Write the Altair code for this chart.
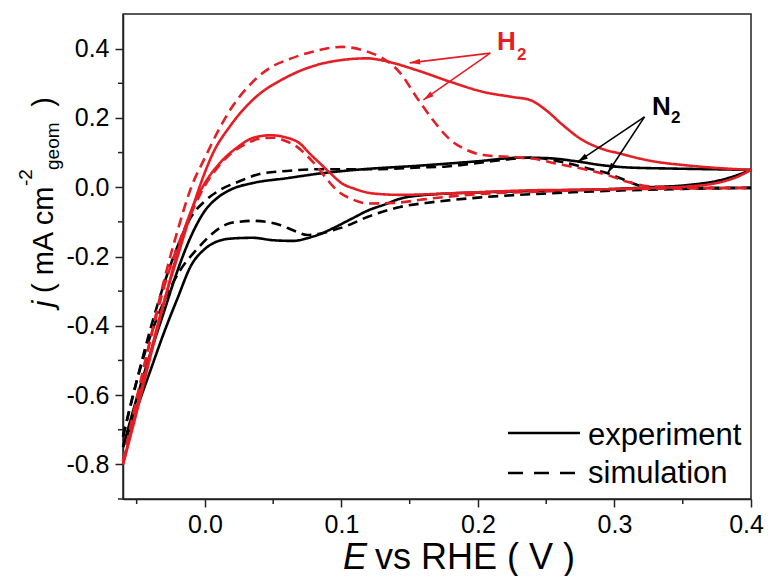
import math
import altair as alt
import pandas as pd

# ---------------- data ----------------
# N2, experiment (black solid)
n2e_up_x = [-0.06, -0.05, -0.04, -0.03, -0.02, -0.01, 0.0, 0.01, 0.02, 0.035, 0.06, 0.085, 0.11, 0.16, 0.2, 0.23, 0.25, 0.27, 0.29, 0.31, 0.34, 0.37, 0.4]
n2e_up_y = [-0.75, -0.61, -0.48, -0.36, -0.24, -0.14, -0.068, -0.028, -0.005, 0.012, 0.026, 0.04, 0.05, 0.063, 0.075, 0.085, 0.084, 0.076, 0.064, 0.057, 0.054, 0.052, 0.05]
n2e_dn_x = [0.4, 0.39, 0.377, 0.353, 0.328, 0.3, 0.25, 0.2, 0.17, 0.157, 0.143, 0.133, 0.119, 0.108, 0.094, 0.084, 0.075, 0.065, 0.05, 0.035, 0.02, 0.01, 0.0, -0.01, -0.02, -0.03, -0.04, -0.05, -0.06]
n2e_dn_y = [0.05, 0.035, 0.02, 0.006, 0.0, -0.005, -0.01, -0.015, -0.02, -0.024, -0.033, -0.048, -0.068, -0.09, -0.118, -0.136, -0.147, -0.155, -0.153, -0.146, -0.148, -0.155, -0.178, -0.225, -0.32, -0.42, -0.53, -0.64, -0.75]

# N2, simulation (black dashed)
n2s_up_x = [-0.06, -0.05, -0.04, -0.03, -0.02, -0.01, 0.0, 0.011, 0.024, 0.04, 0.06, 0.084, 0.128, 0.157, 0.177, 0.2, 0.226, 0.24, 0.255, 0.265, 0.28, 0.295, 0.308, 0.318, 0.33, 0.36, 0.4]
n2s_up_y = [-0.72, -0.56, -0.41, -0.28, -0.17, -0.085, -0.04, -0.008, 0.015, 0.038, 0.047, 0.052, 0.052, 0.057, 0.06, 0.07, 0.082, 0.086, 0.078, 0.07, 0.055, 0.04, 0.02, 0.005, 0.0, -0.002, -0.002]
n2s_dn_x = [0.4, 0.35, 0.3, 0.25, 0.2, 0.167, 0.143, 0.119, 0.105, 0.094, 0.083, 0.075, 0.065, 0.055, 0.045, 0.035, 0.025, 0.018, 0.006, -0.006, -0.018, -0.03, -0.04, -0.05, -0.06]
n2s_dn_y = [-0.002, -0.005, -0.01, -0.018, -0.03, -0.043, -0.057, -0.086, -0.11, -0.124, -0.135, -0.138, -0.125, -0.109, -0.1, -0.097, -0.1, -0.104, -0.132, -0.18, -0.239, -0.33, -0.43, -0.56, -0.72]

# H2, experiment (red solid)
h2e_up_x = [-0.06, -0.05, -0.04, -0.03, -0.02, -0.013, -0.004, 0.006, 0.018, 0.035, 0.06, 0.084, 0.1, 0.119, 0.13, 0.155, 0.18, 0.204, 0.226, 0.238, 0.25, 0.262, 0.275, 0.29, 0.304, 0.328, 0.353, 0.377, 0.4]
h2e_up_y = [-0.8, -0.64, -0.48, -0.33, -0.2, -0.11, 0.0, 0.099, 0.174, 0.252, 0.318, 0.355, 0.367, 0.372, 0.366, 0.338, 0.304, 0.275, 0.26, 0.252, 0.222, 0.18, 0.14, 0.112, 0.097, 0.075, 0.063, 0.055, 0.05]
h2e_dn_x = [0.4, 0.39, 0.378, 0.353, 0.32, 0.28, 0.238, 0.19, 0.143, 0.123, 0.11, 0.1, 0.092, 0.084, 0.076, 0.07, 0.06, 0.048, 0.035, 0.024, 0.011, 0.0, -0.009, -0.018, -0.03, -0.04, -0.05, -0.06]
h2e_dn_y = [0.05, 0.03, 0.015, 0.002, -0.003, -0.007, -0.009, -0.016, -0.022, -0.018, -0.005, 0.012, 0.04, 0.07, 0.1, 0.125, 0.143, 0.15, 0.142, 0.116, 0.07, 0.012, -0.057, -0.16, -0.335, -0.49, -0.65, -0.8]

# H2, simulation (red dashed)
h2s_up_x = [-0.06, -0.05, -0.04, -0.03, -0.02, -0.01, 0.0, 0.01, 0.02, 0.035, 0.05, 0.06, 0.082, 0.1, 0.12, 0.13, 0.143, 0.155, 0.167, 0.18, 0.192, 0.204, 0.226, 0.24, 0.255, 0.28, 0.295, 0.31, 0.325, 0.35, 0.4]
h2s_up_y = [-0.79, -0.62, -0.44, -0.27, -0.125, 0.0, 0.085, 0.165, 0.232, 0.304, 0.35, 0.367, 0.394, 0.405, 0.39, 0.373, 0.33, 0.26, 0.194, 0.136, 0.107, 0.093, 0.087, 0.083, 0.07, 0.05, 0.035, 0.015, 0.003, -0.001, -0.002]
h2s_dn_x = [0.4, 0.35, 0.3, 0.25, 0.2, 0.16, 0.14, 0.12, 0.108, 0.097, 0.09, 0.082, 0.075, 0.068, 0.06, 0.05, 0.04, 0.03, 0.02, 0.01, 0.0, -0.01, -0.02, -0.03, -0.04, -0.05, -0.06]
h2s_dn_y = [-0.002, -0.004, -0.006, -0.012, -0.02, -0.035, -0.045, -0.047, -0.035, -0.01, 0.02, 0.06, 0.09, 0.115, 0.132, 0.143, 0.14, 0.125, 0.1, 0.06, 0.005, -0.075, -0.17, -0.29, -0.44, -0.61, -0.79]

# axis ticks
x_major = [0.0, 0.1, 0.2, 0.3, 0.4]
x_minor = [-0.05, 0.05, 0.15, 0.25, 0.35]
y_major = [-0.8, -0.6, -0.4, -0.2, 0.0, 0.2, 0.4]
y_minor = [-0.9, -0.7, -0.5, -0.3, -0.1, 0.1, 0.3]

# annotation arrows (data coordinates): start -> end
arrow_label = ["H2", "H2", "N2", "N2"]
arrow_x0 = [0.209, 0.209, 0.322, 0.322]
arrow_y0 = [0.387, 0.387, 0.203, 0.203]
arrow_x1 = [0.150, 0.160, 0.273, 0.295]
arrow_y1 = [0.359, 0.252, 0.073, 0.041]

legend_labels = ["experiment", "simulation"]

# ---------------- chart ----------------
X_DOMAIN = [-0.06, 0.4]
Y_DOMAIN = [-0.9, 0.5]
W, H = 628, 485
FONT = "Liberation Sans"
RED = "#e41e25"
INK = "#222222"

xs = alt.Scale(domain=X_DOMAIN, nice=False, zero=False)
ys = alt.Scale(domain=Y_DOMAIN, nice=False, zero=False)
dash = alt.Scale(domain=["experiment", "simulation"], range=[[1, 0], [10, 6]])

xaxis = alt.Axis(values=x_major, format=".1f", labelFontSize=25, tickSize=8,
                 labelPadding=5, grid=False, labelFlush=False, labelOverlap=False, title=None,
                 labelOffset={"condition": {"test": "datum.value > 0.35", "value": -5}, "value": 0})
yaxis = alt.Axis(values=y_major, labelExpr="replace(format(datum.value, '.1f'), '\u2212', '-')",
                 labelFontSize=25, tickSize=8, labelPadding=6, grid=False,
                 labelFlush=False, labelOverlap=False, title=None)


def X(field):
    return alt.X(field, scale=xs, axis=xaxis)


def Y(field):
    return alt.Y(field, scale=ys, axis=yaxis)


def branch(xv, yv, kind, name):
    return pd.DataFrame({"x": xv, "y": yv, "kind": kind, "branch": name})


n2 = pd.concat([
    branch(n2e_up_x, n2e_up_y, "experiment", "eu"),
    branch(n2e_dn_x, n2e_dn_y, "experiment", "ed"),
    branch(n2s_up_x, n2s_up_y, "simulation", "su"),
    branch(n2s_dn_x, n2s_dn_y, "simulation", "sd"),
])
h2 = pd.concat([
    branch(h2e_up_x, h2e_up_y, "experiment", "eu"),
    branch(h2e_dn_x, h2e_dn_y, "experiment", "ed"),
    branch(h2s_up_x, h2s_up_y, "simulation", "su"),
    branch(h2s_dn_x, h2s_dn_y, "simulation", "sd"),
])


def curves(df, color):
    return alt.Chart(df).mark_line(color=color, strokeWidth=2.6, interpolate="monotone").encode(
        x=X("x:Q"), y=Y("y:Q"),
        strokeDash=alt.StrokeDash("kind:N", scale=dash, legend=None),
        detail="branch:N",
    )


layers = [curves(n2, "black"), curves(h2, RED)]

# minor ticks
layers.append(alt.Chart(pd.DataFrame({"v": x_minor})).mark_rule(color=INK, strokeWidth=1.5).encode(
    x=X("v:Q"), y=alt.value(H), y2=alt.value(H + 5)))
layers.append(alt.Chart(pd.DataFrame({"v": y_minor})).mark_rule(color=INK, strokeWidth=1.5).encode(
    y=Y("v:Q"), x=alt.value(-5), x2=alt.value(0)))

# arrows
kx = W / (X_DOMAIN[1] - X_DOMAIN[0])
ky = H / (Y_DOMAIN[1] - Y_DOMAIN[0])
arr = pd.DataFrame({"lab": arrow_label, "x0": arrow_x0, "y0": arrow_y0, "x1": arrow_x1, "y1": arrow_y1})
arr["ang"] = [
    math.degrees(math.atan2((b - a) * kx, (d - c) * ky)) % 360
    for a, b, c, d in zip(arr.x0, arr.x1, arr.y0, arr.y1)
]
acol = alt.Color("lab:N", scale=alt.Scale(domain=["H2", "N2"], range=[RED, "black"]), legend=None)
layers.append(alt.Chart(arr).mark_rule(strokeWidth=1.6).encode(
    x=X("x0:Q"), y=Y("y0:Q"), x2="x1:Q", y2="y1:Q", color=acol))
layers.append(alt.Chart(arr).mark_point(shape="M0,0L0.55,2L-0.55,2Z", filled=True, size=110, opacity=1).encode(
    x=X("x1:Q"), y=Y("y1:Q"), angle=alt.Angle("ang:Q", scale=None), color=acol))


def txt(s, px, py, size, color="black", align="left", baseline="alphabetic", angle=0, weight="normal", style="normal"):
    kw = dict(fontSize=size, font=FONT, align=align, baseline=baseline, color=color,
              fontWeight=weight, fontStyle=style)
    if angle:
        kw["angle"] = angle
    return alt.Chart(pd.DataFrame({"t": [s]})).mark_text(**kw).encode(
        x=alt.value(px), y=alt.value(py), text="t:N")


# axis titles
layers.append(txt("E", 220, 555, 36, style="italic"))
layers.append(txt("vs RHE ( V )", 252, 555, 36))
layers.append(txt("j", -70, 290, 30, align="center", angle=270, style="italic"))
layers.append(txt("( mA cm", -70, 279, 29, angle=270))
layers.append(txt("-2", -91, 172, 19, angle=270))
layers.append(txt("geom", -64, 156, 19, angle=270))
layers.append(txt(")", -70, 88, 29, align="center", angle=270))

# annotations
layers.append(txt("H", 374, 36, 26, color=RED, weight="bold"))
layers.append(txt("2", 394, 46, 17, color=RED, weight="bold"))
layers.append(txt("N", 529, 101, 26, weight="bold"))
layers.append(txt("2", 548, 109, 17, weight="bold"))

# legend
layers.append(alt.Chart(pd.DataFrame({"t": [legend_labels[0]]})).mark_rule(color="black", strokeWidth=2.6).encode(
    x=alt.value(385), x2=alt.value(457), y=alt.value(419)))
layers.append(alt.Chart(pd.DataFrame({"t": [legend_labels[1]]})).mark_rule(color="black", strokeWidth=2.6, strokeDash=[15, 11]).encode(
    x=alt.value(385), x2=alt.value(452), y=alt.value(459)))
layers.append(txt(legend_labels[0], 465, 431, 31))
layers.append(txt(legend_labels[1], 465, 469, 31))

chart = alt.layer(*layers).properties(
    width=W, height=H,
    autosize=alt.AutoSizeParams(type="none"),
    padding={"left": 115, "top": 6, "right": 13, "bottom": 77},
).configure_view(stroke=INK, strokeWidth=1.5).configure_axis(
    domainColor=INK, domainWidth=1.5, tickColor=INK, tickWidth=1.5,
    labelFont=FONT, labelColor="black",
)

chart.save("out.html", embed_options={"renderer": "svg", "actions": False})
